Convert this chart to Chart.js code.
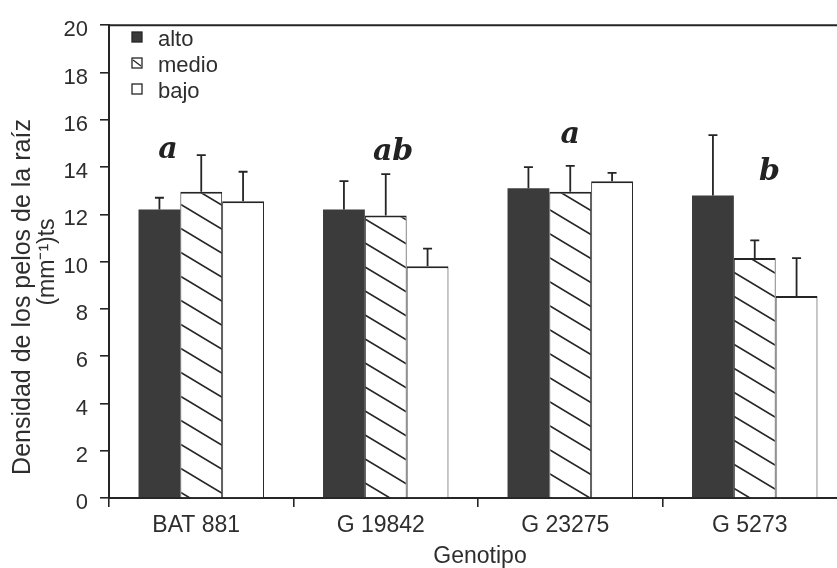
<!DOCTYPE html>
<html lang="es">
<head>
  <meta charset="UTF-8" />
  <title>Densidad de los pelos de la raíz</title>
  <script src="https://cdn.jsdelivr.net/npm/chart.js"></script>
  <style>
    html, body { margin: 0; padding: 0; background: #fff; overflow: hidden; }
    #wrap { width: 850px; height: 568px; }
  </style>
</head>
<body>
  <div id="wrap"><canvas id="chart"></canvas></div>

  <script>
    // Data
    const categories = ['BAT 881', 'G 19842', 'G 23275', 'G 5273'];
    const seriesNames = ['alto', 'medio', 'bajo'];
    const alto  = [12.2, 12.2, 13.1, 12.8];
    const medio = [12.95, 11.95, 12.95, 10.15];
    const bajo  = [12.55, 9.8, 13.4, 8.55];
    const altoErr  = [0.5, 1.2, 0.9, 2.55];
    const medioErr = [1.55, 1.75, 1.1, 0.75];
    const bajoErr  = [1.25, 0.75, 0.35, 1.6];
    const groupLetters = ['a', 'ab', 'a', 'b'];
    const letterValue = [14.4, 14.3, 15.0, 13.45];
    const yTickStep = 2;
    const yMax = 20;
    const xTitle = 'Genotipo';
    const yTitle = ['Densidad de los pelos de la raíz', '(mm\u207B\u00B9)ts'];

    // Layout
    const ink = '#252525';
    const textInk = '#2e2e2e';
    const letterShift = [-0.18, 0.04, 0, 0.08];
    const sansFont = '"Liberation Sans", Arial, sans-serif';

    // Hatch pattern for "medio"
    function makeHatch() {
      const c = document.createElement('canvas');
      c.width = 40; c.height = 24;
      const g = c.getContext('2d');
      g.fillStyle = '#fff';
      g.fillRect(0, 0, 40, 24);
      g.strokeStyle = ink;
      g.lineWidth = 1.6;
      g.beginPath();
      g.moveTo(-40, -24); g.lineTo(80, 48);
      g.moveTo(-40, 0); g.lineTo(40, 48);
      g.moveTo(0, -24); g.lineTo(80, 24);
      g.stroke();
      return g.createPattern(c, 'repeat');
    }
    const hatch = makeHatch();

    const fills = ['#3b3b3b', hatch, '#ffffff'];
    const errors = [altoErr, medioErr, bajoErr];

    const errorBars = {
      id: 'errorBars',
      afterDatasetsDraw(chart) {
        const ctx = chart.ctx, y = chart.scales.y;
        ctx.save();
        ctx.strokeStyle = ink;
        ctx.lineWidth = 1.8;
        chart.data.datasets.forEach((ds, i) => {
          const meta = chart.getDatasetMeta(i);
          meta.data.forEach((bar, j) => {
            const top = y.getPixelForValue(ds.data[j]);
            const cap = y.getPixelForValue(ds.data[j] + errors[i][j]);
            ctx.beginPath();
            ctx.moveTo(bar.x, top); ctx.lineTo(bar.x, cap);
            ctx.moveTo(bar.x - 4.5, cap); ctx.lineTo(bar.x + 4.5, cap);
            ctx.stroke();
          });
        });
        ctx.restore();
      }
    };

    const extras = {
      id: 'extras',
      afterDraw(chart) {
        const ctx = chart.ctx, a = chart.chartArea;
        const x = chart.scales.x, y = chart.scales.y;
        ctx.save();

        // top frame line
        ctx.strokeStyle = ink;
        ctx.lineWidth = 2;
        ctx.beginPath();
        ctx.moveTo(a.left, a.top); ctx.lineTo(chart.width, a.top);
        ctx.stroke();

        // significance letters
        const catW = (a.right - a.left) / categories.length;
        ctx.fillStyle = '#222';
        ctx.font = 'bold italic 30px "DejaVu Serif", serif';
        ctx.textAlign = 'center';
        ctx.textBaseline = 'alphabetic';
        groupLetters.forEach((t, i) => {
          ctx.fillText(t, x.getPixelForValue(i) + letterShift[i] * catW, y.getPixelForValue(letterValue[i]));
        });

        // legend inside plot
        ctx.font = '22px ' + sansFont;
        ctx.textAlign = 'left';
        ctx.textBaseline = 'middle';
        seriesNames.forEach((name, i) => {
          const ry = 38 + i * 26;
          const bx = 132, by = ry - 6;
          ctx.fillStyle = i === 0 ? fills[0] : '#fff';
          ctx.fillRect(bx, by, 10, 10);
          ctx.strokeStyle = ink;
          ctx.lineWidth = 1.3;
          ctx.strokeRect(bx, by, 10, 10);
          if (i === 1) {
            ctx.beginPath();
            ctx.moveTo(bx + 1, by + 2); ctx.lineTo(bx + 9, by + 8);
            ctx.stroke();
          }
          ctx.fillStyle = textInk;
          ctx.fillText(name, 158, ry + 2);
        });

        // axis titles
        ctx.textAlign = 'center';
        ctx.font = '23px ' + sansFont;
        ctx.fillText(xTitle, 480, 557);
        ctx.save();
        ctx.translate(23, 297);
        ctx.rotate(-Math.PI / 2);
        ctx.font = '25px ' + sansFont;
        ctx.fillText(yTitle[0], 0, 0);
        ctx.restore();
        ctx.save();
        ctx.translate(48, 262);
        ctx.rotate(-Math.PI / 2);
        ctx.font = '23px ' + sansFont;
        ctx.fillText(yTitle[1], 0, 0);
        ctx.restore();

        ctx.restore();
      }
    };

    new Chart(document.getElementById('chart'), {
      type: 'bar',
      data: {
        labels: categories,
        datasets: [alto, medio, bajo].map((vals, i) => ({
          label: seriesNames[i],
          data: vals,
          backgroundColor: fills[i],
          borderColor: ink,
          borderWidth: i === 0 ? 0 : { top: 2, left: 1, right: 1, bottom: 0 },
          borderSkipped: 'start',
          categoryPercentage: 0.68,
          barPercentage: 1.0
        }))
      },
      options: {
        responsive: true,
        maintainAspectRatio: false,
        animation: false,
        layout: { padding: { top: 17, right: 3, left: 0, bottom: 0 } },
        plugins: {
          legend: { display: false },
          tooltip: { enabled: false }
        },
        scales: {
          x: {
            afterFit: s => { s.height = 70; },
            grid: { display: true, drawOnChartArea: false, drawTicks: true, tickLength: 9, color: ink, lineWidth: 1.6 },
            border: { display: true, color: ink, width: 2 },
            ticks: { color: textInk, font: { family: sansFont, size: 23 }, padding: 5, labelOffset: -5 }
          },
          y: {
            min: 0,
            max: yMax,
            afterFit: s => { s.width = 109; },
            grid: { display: true, drawOnChartArea: false, drawTicks: true, tickLength: 9, color: ink, lineWidth: 1.6 },
            border: { display: true, color: ink, width: 2 },
            ticks: { stepSize: yTickStep, color: textInk, font: { family: sansFont, size: 22 }, padding: 12, labelOffset: 5 }
          }
        }
      },
      plugins: [errorBars, extras]
    });
  </script>
</body>
</html>
